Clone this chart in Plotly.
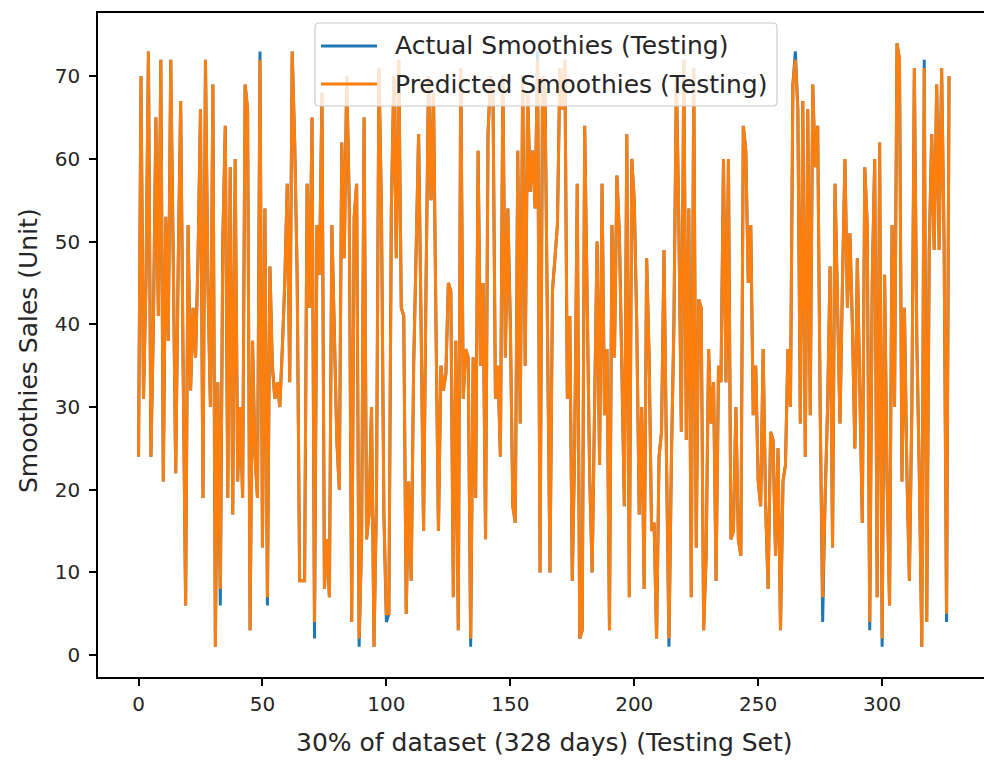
import plotly.graph_objects as go

# Actual smoothies sales (testing set, 328 days)
actual = [
    24, 70, 31, 45, 73, 24, 40, 65, 41, 72, 21, 53, 38, 72, 48, 22, 47, 67, 35, 6,
    52, 32, 42, 36, 48, 66, 19, 72, 45, 30, 69, 1, 33, 6, 50, 64, 19, 59, 17, 60,
    21, 30, 19, 69, 66, 3, 38, 24, 19, 73, 13, 54, 6, 47, 35, 31, 33, 30, 37, 45,
    57, 33, 73, 62, 46, 9, 9, 9, 57, 42, 65, 2, 52, 46, 68, 8, 14, 7, 52, 40,
    26, 20, 62, 48, 70, 55, 4, 53, 57, 1, 14, 65, 14, 17, 30, 1, 19, 71, 54, 17,
    4, 5, 54, 70, 48, 72, 42, 41, 5, 21, 9, 35, 48, 63, 40, 15, 45, 70, 55, 68,
    40, 15, 35, 32, 34, 45, 44, 7, 38, 3, 71, 31, 37, 36, 1, 36, 19, 61, 35, 45,
    14, 63, 70, 68, 31, 35, 24, 70, 36, 54, 40, 18, 16, 61, 28, 70, 35, 68, 56, 61,
    54, 73, 10, 70, 68, 40, 10, 44, 48, 52, 71, 66, 72, 31, 41, 9, 26, 57, 2, 3,
    64, 42, 22, 10, 31, 50, 23, 57, 29, 37, 3, 52, 36, 58, 51, 35, 18, 63, 7, 60,
    55, 40, 17, 30, 8, 48, 36, 15, 16, 2, 24, 27, 49, 24, 1, 24, 40, 70, 52, 27,
    72, 26, 54, 7, 71, 13, 43, 42, 3, 12, 37, 28, 33, 9, 35, 33, 60, 33, 60, 14,
    15, 30, 14, 12, 64, 61, 45, 52, 29, 35, 21, 18, 37, 18, 8, 27, 26, 12, 25, 3,
    21, 23, 37, 30, 69, 73, 66, 28, 67, 24, 66, 29, 69, 59, 64, 30, 4, 19, 30, 47,
    13, 57, 43, 28, 45, 60, 42, 51, 40, 25, 48, 30, 16, 59, 52, 3, 45, 60, 7, 62,
    1, 46, 21, 6, 52, 30, 74, 72, 21, 42, 22, 9, 30, 71, 38, 22, 1, 72, 4, 49,
    63, 49, 69, 49, 71, 50, 4, 70,
]

# Predicted values equal the actual ones except at these days
predicted_diffs = {
    33: 8, 49: 72, 52: 7, 71: 4, 89: 2, 100: 5, 134: 2, 161: 72,
    214: 2, 265: 72, 276: 7, 295: 4, 300: 2, 317: 71, 326: 5,
}
predicted = [predicted_diffs.get(i, v) for i, v in enumerate(actual)]
days = list(range(len(actual)))

series_names = ["Actual Smoothies (Testing)", "Predicted Smoothies (Testing)"]
series_colors = ["#1f77b4", "#ff7f0e"]
x_ticks = [0, 50, 100, 150, 200, 250, 300]
y_ticks = [0, 10, 20, 30, 40, 50, 60, 70]
x_title = "30% of dataset (328 days) (Testing Set)"
y_title = "Smoothies Sales (Unit)"

FONT = "DejaVu Sans"
W, H = 984, 760
L, R, T, B = 98, 0, 13, 83
PW, PH = W - L - R, H - T - B


def px(x):
    return (x - L) / PW


def py(y):
    return (H - B - y) / PH


fig = go.Figure()
fig.add_trace(go.Scatter(x=days, y=actual, mode="lines", name=series_names[0],
                         line=dict(color=series_colors[0], width=3)))
fig.add_trace(go.Scatter(x=days, y=predicted, mode="lines", name=series_names[1],
                         line=dict(color=series_colors[1], width=3)))

# legend drawn as a framed box (matplotlib style)
lx0, lx1, ly0, ly1, rad = 315, 777, 23, 106, 4
path = (f"M {px(lx0 + rad)},{py(ly0)} L {px(lx1 - rad)},{py(ly0)} "
        f"Q {px(lx1)},{py(ly0)} {px(lx1)},{py(ly0 + rad)} "
        f"L {px(lx1)},{py(ly1 - rad)} Q {px(lx1)},{py(ly1)} {px(lx1 - rad)},{py(ly1)} "
        f"L {px(lx0 + rad)},{py(ly1)} Q {px(lx0)},{py(ly1)} {px(lx0)},{py(ly1 - rad)} "
        f"L {px(lx0)},{py(ly0 + rad)} Q {px(lx0)},{py(ly0)} {px(lx0 + rad)},{py(ly0)} Z")
shapes = [dict(type="path", xref="paper", yref="paper", path=path,
               fillcolor="rgba(255,255,255,0.8)", line=dict(color="#cccccc", width=1.2),
               layer="above")]
annotations = []
for k, (name, col) in enumerate(zip(series_names, series_colors)):
    yc = 46 + 38 * k
    shapes.append(dict(type="line", xref="paper", yref="paper",
                       x0=px(321), x1=px(377), y0=py(yc), y1=py(yc),
                       line=dict(color=col, width=3), layer="above"))
    annotations.append(dict(text=name, xref="paper", yref="paper",
                            x=px(393), y=py(yc), xanchor="left", yanchor="middle",
                            showarrow=False,
                            font=dict(family=FONT, size=25, color="#262626")))

annotations.append(dict(text=x_title, xref="paper", yref="paper",
                        x=px(544), y=py(742), xanchor="center", yanchor="middle",
                        showarrow=False, font=dict(family=FONT, size=25, color="#262626")))
annotations.append(dict(text=y_title, xref="paper", yref="paper",
                        x=px(28), y=py(351), xanchor="center", yanchor="middle",
                        textangle=-90, showarrow=False,
                        font=dict(family=FONT, size=25, color="#262626")))

fig.update_layout(
    width=W, height=H,
    margin=dict(l=L, r=R, t=T, b=B, pad=0),
    paper_bgcolor="white", plot_bgcolor="white",
    font=dict(family=FONT, size=20, color="#262626"),
    showlegend=False,
    shapes=shapes, annotations=annotations,
    xaxis=dict(range=[-16.35, 341.1], tickvals=x_ticks, showgrid=False,
               zeroline=False, showline=True, linecolor="black", linewidth=1.6,
               mirror=True, ticks="outside", ticklen=7, tickwidth=1.6,
               tickcolor="black", ticklabelstandoff=1,
               tickfont=dict(family=FONT, size=20, color="#262626")),
    yaxis=dict(range=[-2.65, 77.65], tickvals=y_ticks, showgrid=False,
               zeroline=False, showline=True, linecolor="black", linewidth=1.6,
               ticks="outside", ticklen=7, tickwidth=1.6, tickcolor="black",
               ticklabelstandoff=5,
               tickfont=dict(family=FONT, size=20, color="#262626")),
)

fig.write_html("out.html", config={"displayModeBar": False},
               post_script="document.body.style.margin='0px';")
